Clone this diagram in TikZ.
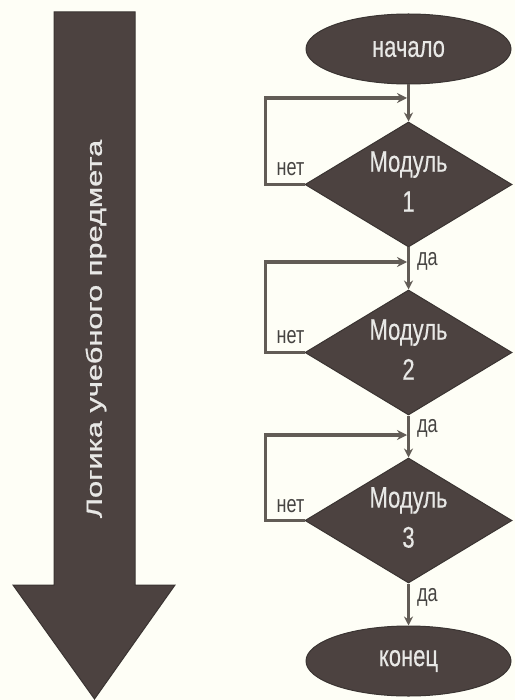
\documentclass[tikz,border=0pt]{standalone}
\usepackage{fontspec}
\setmainfont{Liberation Sans}
\newfontfamily\heavyfont[FakeBold=0.9]{Liberation Sans}
\newfontfamily\mediumfont[FakeBold=0.4]{Liberation Sans}
\usetikzlibrary{shapes.geometric,arrows.meta}
\definecolor{shapefill}{RGB}{76,66,64}
\definecolor{shapeedge}{RGB}{58,52,50}
\definecolor{paper}{RGB}{254,254,246}
\definecolor{wire}{RGB}{98,92,86}
\definecolor{ink}{RGB}{232,232,230}
\definecolor{note}{RGB}{70,68,66}
% text in this chart is drawn taller than wide
\newcommand{\tallt}[1]{\scalebox{1}[1.35]{#1}}

\begin{document}
\begin{tikzpicture}[x=1pt,y=-1pt,
  terminal/.style={ellipse, fill=shapefill, draw=shapeedge, line width=1pt,
    minimum width=205pt, minimum height=70pt, inner sep=0pt, text=ink,
    font=\mediumfont\fontsize{22}{24}\selectfont},
  decision/.style={diamond, fill=shapefill, draw=shapeedge, line width=1pt,
    minimum width=207pt, minimum height=125pt, inner sep=0pt},
  decisiontext/.style={text=ink, align=center, inner sep=0pt,
    font=\mediumfont\fontsize{22}{40}\selectfont},
  flow/.style={draw=wire, line width=2.5pt, -{Stealth[length=9pt,width=9pt]}},
  loopline/.style={draw=wire, line width=3.5pt, -{Stealth[length=10pt,width=10pt]}},
  tag/.style={text=note, inner sep=0pt, font=\fontsize{18}{20}\selectfont},
  bigarrow/.style={fill=shapefill, draw=shapeedge, line width=1pt}
]
\fill[paper] (0,0) rectangle (515,700);
\useasboundingbox (0,0) rectangle (515,700);

% big downward arrow on the left
\filldraw[bigarrow] (54,12) -- (135,12) -- (135,585) -- (175,585) -- (94.5,699)
  -- (13,585) -- (54,585) -- cycle;
\node[text=ink, rotate=90, inner sep=0pt, font=\heavyfont\fontsize{22}{24}\selectfont]
  (logic) at (96,329) {\scalebox{1.4}[1]{Логика учебного предмета}};

% flowchart
\node[terminal] (start) at (408.5,49) {\tallt{начало}};
\node[decision] (d1) at (408.5,184.5) {};
\node[decision] (d2) at (408.5,352.5) {};
\node[decision] (d3) at (408.5,520.5) {};
\node[terminal] (stop) at (408.5,661) {\tallt{конец}};

\node[decisiontext] (t1) at ([yshift=3]d1.center) {\tallt{Модуль}\\\tallt{1}};
\node[decisiontext] (t2) at ([yshift=3]d2.center) {\tallt{Модуль}\\\tallt{2}};
\node[decisiontext] (t3) at ([yshift=3]d3.center) {\tallt{Модуль}\\\tallt{3}};

% joins where the loops come back
\coordinate (j1) at (407,98);
\coordinate (j2) at (407,262);
\coordinate (j3) at (407,435);

\draw[flow] (start.south) -- (d1.north);
\draw[flow] (d1.south) -- (d2.north);
\draw[flow] (d2.south) -- (d3.north);
\draw[flow] (d3.south) -- (stop.north);

\draw[loopline] (d1.west) -- ++(-39,0) |- (j1);
\draw[loopline] (d2.west) -- ++(-39,0) |- (j2);
\draw[loopline] (d3.west) -- ++(-39,0) |- (j3);

\node[tag] (n1) at ([shift={(-14,-15)}]d1.west) {\tallt{нет}};
\node[tag] (n2) at ([shift={(-14,-15)}]d2.west) {\tallt{нет}};
\node[tag] (n3) at ([shift={(-14,-14)}]d3.west) {\tallt{нет}};

\node[tag, anchor=west] (y1) at ([shift={(8.5,14)}]d1.south) {\tallt{да}};
\node[tag, anchor=west] (y2) at ([shift={(8.5,13)}]d2.south) {\tallt{да}};
\node[tag, anchor=west] (y3) at ([shift={(8.5,14)}]d3.south) {\tallt{да}};
\end{tikzpicture}
\end{document}
